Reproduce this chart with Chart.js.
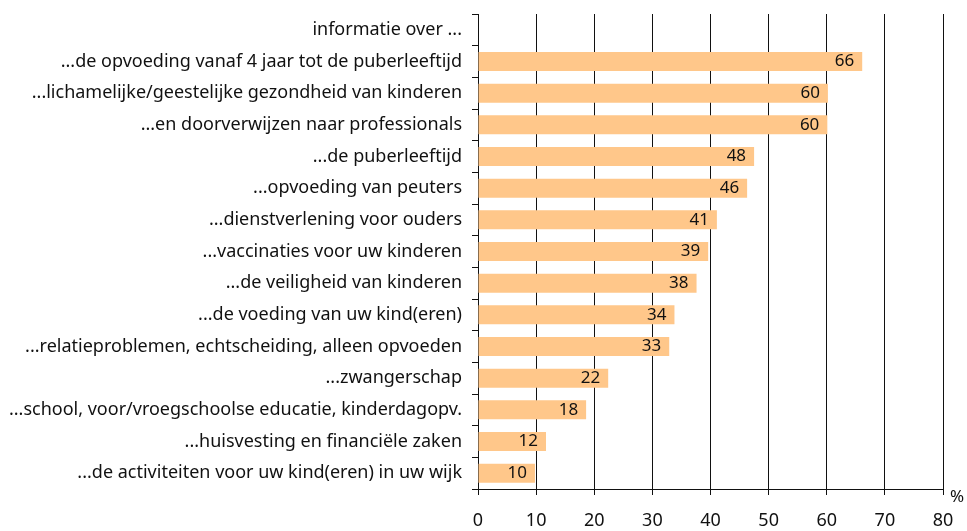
<!DOCTYPE html>
<html>
<head>
<meta charset="utf-8">
<script src="https://cdn.jsdelivr.net/npm/chart.js@4"></script>
<style>
html,body{margin:0;padding:0;background:#fff;}
#wrap{width:967px;height:531px;position:relative;}
</style>
</head>
<body>
<div id="wrap"><canvas id="c" width="967" height="531"></canvas></div>
<script>
const categories = [
  "informatie over ...",
  "...de opvoeding vanaf 4 jaar tot de puberleeftijd",
  "...lichamelijke/geestelijke gezondheid van kinderen",
  "...en doorverwijzen naar professionals",
  "...de puberleeftijd",
  "...opvoeding van peuters",
  "...dienstverlening voor ouders",
  "...vaccinaties voor uw kinderen",
  "...de veiligheid van kinderen",
  "...de voeding van uw kind(eren)",
  "...relatieproblemen, echtscheiding, alleen opvoeden",
  "...zwangerschap",
  "...school, voor/vroegschoolse educatie, kinderdagopv.",
  "...huisvesting en financiële zaken",
  "...de activiteiten voor uw kind(eren) in uw wijk"
];
const values = [null, 66.1, 60.2, 60.1, 47.5, 46.3, 41.1, 39.6, 37.6, 33.8, 32.9, 22.4, 18.6, 11.7, 9.8];
const valueLabels = ["", "66", "60", "60", "48", "46", "41", "39", "38", "34", "33", "22", "18", "12", "10"];
const xTicks = [0, 10, 20, 30, 40, 50, 60, 70, 80];
const unitLabel = "%";

const FONT = "'Noto Sans', 'Open Sans', sans-serif";

const labelPlugin = {
  id: 'valLabels',
  afterDatasetsDraw(chart) {
    const ctx = chart.ctx;
    const meta = chart.getDatasetMeta(0);
    ctx.save();
    ctx.font = "17px " + FONT;
    ctx.fillStyle = "#111";
    ctx.textAlign = "right";
    ctx.textBaseline = "middle";
    meta.data.forEach((bar, i) => {
      if (values[i] == null) return;
      ctx.fillText(valueLabels[i], bar.x - 8, bar.y);
    });
    const xs = chart.scales.x;
    ctx.textAlign = "left";
    ctx.font = "17px " + FONT;
    ctx.fillText(unitLabel, xs.right + 7, xs.top + 8);
    ctx.restore();
  }
};

new Chart(document.getElementById('c'), {
  type: 'bar',
  data: {
    labels: categories,
    datasets: [{
      data: values,
      backgroundColor: '#FFC78A',
      borderWidth: 0,
      barPercentage: 0.6,
      categoryPercentage: 1.0
    }]
  },
  options: {
    indexAxis: 'y',
    responsive: false,
    animation: false,
    devicePixelRatio: 1,
    layout: { padding: { top: 14, right: 24, left: 0, bottom: 0 } },
    plugins: { legend: { display: false }, tooltip: { enabled: false } },
    scales: {
      x: {
        min: 0, max: 80,
        afterBuildTicks(axis) { axis.ticks = xTicks.map(v => ({ value: v })); },
        afterFit(axis) { axis.height = 42; axis.paddingLeft = 0; axis.paddingRight = 0; },
        grid: { color: '#111', lineWidth: 1, drawTicks: true, tickLength: 6, tickColor: '#111' },
        border: { display: true, color: '#111', width: 1 },
        ticks: { font: { size: 18, family: FONT }, color: '#111', padding: 15, maxRotation: 0 }
      },
      y: {
        afterFit(axis) { axis.width = 478; axis.paddingTop = 0; axis.paddingBottom = 0; },
        grid: { drawOnChartArea: false, drawTicks: true, tickLength: 6, tickColor: '#111', offset: true },
        border: { display: true, color: '#111', width: 1 },
        ticks: { font: { size: 18, family: FONT }, color: '#111', padding: 10, autoSkip: false }
      }
    }
  },
  plugins: [labelPlugin]
});
</script>
</body>
</html>
